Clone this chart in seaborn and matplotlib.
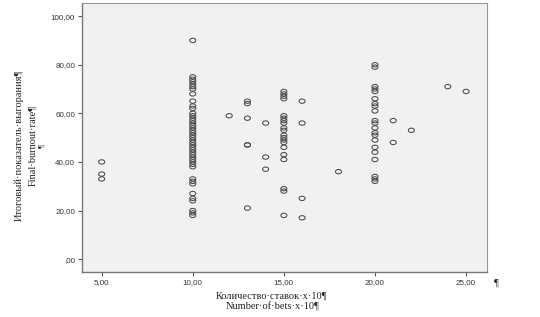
import numpy as np
import pandas as pd
import matplotlib
matplotlib.use("Agg")
import matplotlib.pyplot as plt
from matplotlib.path import Path
import seaborn as sns

# ---- data ----
bets_5 = [40, 35, 33]
bets_10 = [90, 75, 74, 73, 72, 71, 70, 68, 65, 63, 62, 60, 59, 58, 57, 56, 55, 54, 53,
           52, 51, 50, 49, 48, 47, 46, 45, 44, 43, 42, 41, 40, 39, 38, 33, 32, 31, 27,
           25, 24, 20, 19, 18]
bets_12 = [59]
bets_13 = [65, 64, 58, 47, 47, 21]
bets_14 = [56, 42, 37]
bets_15 = [69, 68, 67, 66, 59, 58, 57, 56, 54, 53, 51, 50, 49, 48, 46, 43, 41, 29, 28, 18]
bets_16 = [65, 56, 25, 17]
bets_18 = [36]
bets_20 = [80, 79, 71, 70, 69, 66, 64, 63, 61, 57, 56, 54, 52, 51, 49, 46, 44, 41, 34, 33, 32]
bets_21 = [57, 48]
bets_22 = [53]
bets_24 = [71]
bets_25 = [69]

x_ticks = [5, 10, 15, 20, 25]
x_tick_labels = ["5,00", "10,00", "15,00", "20,00", "25,00"]
y_ticks = [0, 20, 40, 60, 80, 100]
y_tick_labels = [",00", "20,00", "40,00", "60,00", "80,00", "100,00"]

groups = {5: bets_5, 10: bets_10, 12: bets_12, 13: bets_13, 14: bets_14, 15: bets_15,
          16: bets_16, 18: bets_18, 20: bets_20, 21: bets_21, 22: bets_22, 24: bets_24,
          25: bets_25}
rows = [(k, v) for k, vals in groups.items() for v in vals]
df = pd.DataFrame(rows, columns=["bets", "burnout"])

sns.set_style("white")
plt.rcParams['font.family'] = ['Liberation Sans', 'DejaVu Sans']

fig = plt.figure(figsize=(5.40, 3.17), dpi=100)
ax = fig.add_axes([82/540, 1-272/317, (487-82)/540, (272-3)/317])
ax.set_facecolor("#f1f1f1")

# ellipse marker (slightly wider than tall)
t = np.linspace(0, 2*np.pi, 40)
ell = Path(np.column_stack([np.cos(t), 0.72*np.sin(t)]), closed=True)

sns.scatterplot(data=df, x="bets", y="burnout", ax=ax, marker=ell, s=19,
                facecolor="none", edgecolor="#4a4a4a", linewidth=0.75, legend=False)

ax.set_xlim(3.92, 26.15)
ax.set_ylim(-5.3, 105.4)
ax.set_xticks(x_ticks)
ax.set_xticklabels(x_tick_labels)
ax.set_yticks(y_ticks)
ax.set_yticklabels(y_tick_labels)
ax.tick_params(axis="both", labelsize=5.8, colors="#555555", labelcolor="#333333",
               length=3, width=0.8, direction="out", pad=2, bottom=True, left=True)
ax.set_xlabel("")
ax.set_ylabel("")
for side in ["left", "bottom"]:
    ax.spines[side].set_color("#777777")
    ax.spines[side].set_linewidth(1.0)
for side in ["top", "right"]:
    ax.spines[side].set_color("#999999")
    ax.spines[side].set_linewidth(0.8)

serif = ['Liberation Serif', 'DejaVu Serif']
fig.text(272/540, 1-296/317, "Количество·ставок·x·10¶", ha="center", va="center",
         fontsize=7.5, family=serif, color="#222222")
fig.text(273/540, 1-307/317, "Number·of·bets·x·10¶", ha="center", va="center",
         fontsize=7.5, family=serif, color="#222222")
fig.text(19/540, 1-145/317, "Итоговый·показатель·выгорания¶", ha="center", va="center",
         rotation=90, fontsize=7.5, family=serif, color="#222222")
fig.text(33/540, 1-145/317, "Final·burnout·rate¶", ha="center", va="center",
         rotation=90, fontsize=7.5, family=serif, color="#222222")
fig.text(42/540, 1-146/317, "¶", ha="center", va="center",
         rotation=90, fontsize=6, family=serif, color="#222222")
fig.text(496/540, 1-283/317, "¶", ha="center", va="center",
         fontsize=7.5, family=serif, color="#222222")

fig.savefig("out.png", dpi=100, facecolor="white")
